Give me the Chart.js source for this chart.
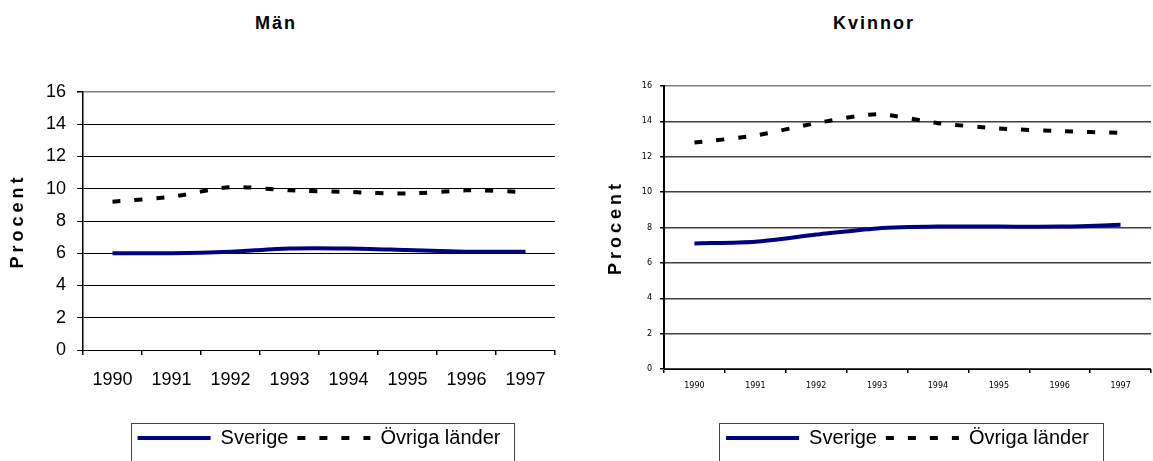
<!DOCTYPE html>
<html lang="sv">
<head>
<meta charset="utf-8">
<title>Män och kvinnor 1990–1997</title>
<script src="https://cdn.jsdelivr.net/npm/chart.js@4.4.1/dist/chart.umd.min.js"></script>
<style>
    body {
        margin: 0;
        width: 1153px;
        height: 461px;
        overflow: hidden;
        position: relative;
        background: #fff;
        font-family: "Liberation Sans", Arial, sans-serif;
    }
    .panel { position: absolute; top: 0; height: 461px; }
    .panel canvas { position: absolute; left: 0; top: 0; }
    .chart-title {
        position: absolute;
        top: 13px;
        width: 200px;
        margin: 0;
        text-align: center;
        font-size: 18px;
        line-height: 20px;
        font-weight: bold;
        letter-spacing: 2px;
        color: #000;
    }
</style>
</head>
<body>
<div class="panel" style="left:0; width:576px;">
    <h3 class="chart-title" style="left:176px;">Män</h3>
    <canvas id="chartMen" width="576" height="461"></canvas>
</div>
<div class="panel" style="left:576px; width:577px;">
    <h3 class="chart-title" style="left:198px;">Kvinnor</h3>
    <canvas id="chartWomen" width="577" height="461"></canvas>
</div>

<script>
const years = ['1990', '1991', '1992', '1993', '1994', '1995', '1996', '1997'];
const seriesNames = ['Sverige', 'Övriga länder'];

const menSverige = [6.0, 6.0, 6.1, 6.3, 6.3, 6.2, 6.1, 6.1];
const menOvriga = [9.2, 9.5, 10.1, 9.9, 9.8, 9.7, 9.9, 9.8];

const womenSverige = [7.1, 7.2, 7.6, 7.95, 8.05, 8.05, 8.05, 8.15];
const womenOvriga = [12.8, 13.2, 13.9, 14.4, 13.9, 13.6, 13.45, 13.35];

const yMin = 0;
const yMax = 16;
const yStep = 2;

const FONT = '"Liberation Sans", Arial, sans-serif';

// Excel-style frame around the legend (open at the bottom, cut off by the page)
const legendFrame = {
    id: 'legendFrame',
    afterDraw(chart) {
        const boxes = chart.legend.legendHitBoxes;
        if (!boxes || !boxes.length) return;
        const last = boxes[boxes.length - 1];
        const left = Math.round(boxes[0].left - 7) + 0.5;
        const right = Math.round(last.left + last.width + 14) + 0.5;
        const top = Math.round(chart.legend.top + 4) + 0.5;
        const ctx = chart.ctx;
        ctx.save();
        ctx.strokeStyle = '#444';
        ctx.lineWidth = 1;
        ctx.strokeRect(left, top, right - left, 80);
        ctx.restore();
    }
};

// the "Procent" title is printed letter-spaced in the original
const spacedAxisTitle = {
    id: 'spacedAxisTitle',
    beforeDraw(chart) {
        const scale = chart.scales.y;
        if (scale._spaced) return;
        const drawTitle = scale.drawTitle;
        scale.drawTitle = function () {
            this.ctx.save();
            this.ctx.letterSpacing = '4px';
            drawTitle.call(this);
            this.ctx.restore();
        };
        scale._spaced = true;
    }
};

function makeChart(canvasId, sverige, ovriga, look) {
    const ctx = document.getElementById(canvasId).getContext('2d');
    return new Chart(ctx, {
        type: 'line',
        data: {
            labels: years,
            datasets: [
                {
                    label: seriesNames[0],
                    data: sverige,
                    borderColor: '#000080',
                    backgroundColor: '#000080',
                    borderWidth: 4,
                    pointRadius: 0,
                    tension: 0.25
                },
                {
                    label: seriesNames[1],
                    data: ovriga,
                    borderColor: '#000',
                    backgroundColor: '#000',
                    borderWidth: 4,
                    borderDash: [8, 14],
                    pointRadius: 0,
                    tension: 0.25
                }
            ]
        },
        options: {
            responsive: false,
            animation: false,
            layout: { padding: look.padding },
            plugins: {
                title: { display: false },
                tooltip: { enabled: false },
                legend: {
                    position: 'bottom',
                    fullSize: false,
                    labels: {
                        usePointStyle: true,
                        pointStyleWidth: 73,
                        padding: 9,
                        color: '#000',
                        font: { family: FONT, size: 20 },
                        generateLabels: (chart) => chart.data.datasets.map((ds, i) => ({
                            text: ds.label,
                            datasetIndex: i,
                            pointStyle: 'line',
                            strokeStyle: ds.borderColor,
                            fillStyle: ds.borderColor,
                            lineWidth: ds.borderWidth,
                            lineDash: ds.borderDash || [],
                            hidden: false
                        }))
                    }
                }
            },
            scales: {
                x: {
                    offset: true,
                    afterFit: (scale) => { scale.height = look.xAxisHeight; },
                    grid: {
                        offset: true,
                        drawOnChartArea: true,
                        color: (c) => c.index === years.length ? '#808080' : 'rgba(0,0,0,0)',
                        lineWidth: 1.5,
                        tickColor: '#000',
                        tickLength: look.xTickLength
                    },
                    border: { color: '#000', width: 1 },
                    ticks: {
                        color: '#000',
                        padding: look.xTickPadding,
                        maxRotation: 0,
                        autoSkip: false,
                        font: look.tickFont
                    }
                },
                y: {
                    min: yMin,
                    max: yMax,
                    afterFit: (scale) => { scale.width = look.yAxisWidth; },
                    ticks: {
                        stepSize: yStep,
                        color: '#000',
                        padding: look.yTickPadding,
                        font: look.tickFont
                    },
                    grid: {
                        color: (c) => c.tick && c.tick.value === yMax ? '#808080' : look.gridColor,
                        lineWidth: (c) => c.tick && c.tick.value === yMax ? 1.5 : look.gridWidth,
                        tickColor: '#000',
                        tickLength: look.yTickLength
                    },
                    border: { color: '#000', width: look.axisWidth },
                    title: {
                        display: true,
                        text: 'Procent',
                        color: '#000',
                        padding: { top: look.yTitleTop, bottom: 0 },
                        font: { family: FONT, size: 18, weight: 'bold', lineHeight: 1.2 }
                    }
                }
            }
        },
        plugins: [legendFrame, spacedAxisTitle]
    });
}

document.addEventListener('DOMContentLoaded', () => {
    makeChart('chartMen', menSverige, menOvriga, {
        padding: { top: 92, right: 21, bottom: 3, left: 0 },
        xAxisHeight: 69,
        xTickLength: 5,
        xTickPadding: 14,
        yAxisWidth: 83,
        yTickLength: 6,
        yTickPadding: 11,
        yTitleTop: 7,
        gridColor: '#000',
        gridWidth: 1,
        axisWidth: 1.5,
        tickFont: { family: FONT, size: 18 }
    });

    makeChart('chartWomen', womenSverige, womenOvriga, {
        padding: { top: 86, right: 2, bottom: 3, left: 0 },
        xAxisHeight: 50,
        xTickLength: 4,
        xTickPadding: 8,
        yAxisWidth: 88,
        yTickLength: 4,
        yTickPadding: 8,
        yTitleTop: 29,
        gridColor: '#404040',
        gridWidth: 1.5,
        axisWidth: 2,
        tickFont: { family: '"DejaVu Sans", sans-serif', size: 8 }
    });
});
</script>
</body>
</html>
